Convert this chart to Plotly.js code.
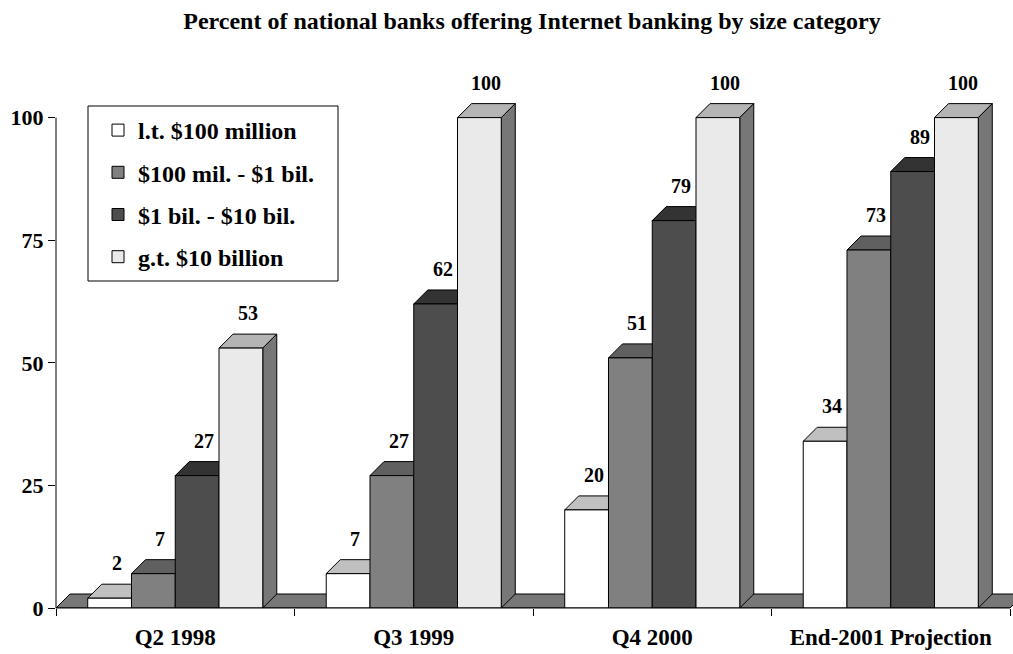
<!DOCTYPE html>
<html><head><meta charset="utf-8">
<script src="https://cdn.plot.ly/plotly-3.0.1.min.js"></script>
<style>html,body{margin:0;padding:0;background:#fff}</style>
</head><body><div id="chart" style="width:1013px;height:654px"></div>
<script>
// ---- data ----
const categories = ['Q2 1998', 'Q3 1999', 'Q4 2000', 'End-2001 Projection'];
const seriesNames = ['l.t. $100 million', '$100 mil. - $1 bil.', '$1 bil. - $10 bil.', 'g.t. $10 billion'];
const ltHundredMillion = [2, 7, 20, 34];
const hundredMilToOneBil = [7, 27, 51, 73];
const oneBilToTenBil = [27, 62, 79, 89];
const gtTenBillion = [53, 100, 100, 100];
const yTickVals = [0, 25, 50, 75, 100];

// ---- styles ----
const seriesValues = [ltHundredMillion, hundredMilToOneBil, oneBilToTenBil, gtTenBillion];
const frontColors = ['#ffffff', '#808080', '#4d4d4d', '#eaeaea'];
const topColors = ['#c0c0c0', '#606060', '#333333', '#b4b4b4'];
const sideColor = '#777777';
const floorColor = '#777777';
const FONT = 'Liberation Serif';

const W = 1013, H = 654, ML = 56, MR = 0, MT = 98, MB = 46;
const PW = W - ML - MR, PH = H - MT - MB;
const pxPerCat = 238.5;
const X0 = -0.5, X1 = X0 + PW / pxPerCat;
const Y0 = 0, Y1 = 104;
const DEPTH = 14;
const DX = DEPTH * (X1 - X0) / PW;
const DY = DEPTH * (Y1 - Y0) / PH;
const BARGAP = 0.266;
const nS = seriesValues.length;
const barW = (1 - BARGAP) / nS;
const xIdx = categories.map((c, i) => i);
const offsetOf = s => -(1 - BARGAP) / 2 + (s + 0.5) * barW;

const traces = seriesValues.map((vals, s) => ({
  type: 'bar', name: seriesNames[s], x: xIdx, y: vals,
  legendgroup: 'g' + s,
  marker: {color: frontColors[s], line: {color: '#000', width: 1}},
  hoverinfo: 'skip'
}));

const shapes = [];
// floor
const fl0 = X0, fl1 = categories.length - 0.5;
shapes.push({type: 'path', layer: 'below', xref: 'x', yref: 'y',
  path: `M${fl0},0 L${fl1},0 L${fl1 + DX},${DY} L${fl0 + DX},${DY} Z`,
  fillcolor: floorColor, line: {color: '#000', width: 1}});

const annotations = [];
seriesValues.forEach((vals, s) => {
  vals.forEach((v, j) => {
    const xl = j + offsetOf(s) - barW / 2, xr = xl + barW;
    shapes.push({type: 'path', layer: 'below', xref: 'x', yref: 'y',
      path: `M${xl},${v} L${xr},${v} L${xr + DX},${v + DY} L${xl + DX},${v + DY} Z`,
      fillcolor: topColors[s], line: {color: '#000', width: 1}});
    if (s === nS - 1) {
      shapes.push({type: 'path', layer: 'below', xref: 'x', yref: 'y',
        path: `M${xr},0 L${xr},${v} L${xr + DX},${v + DY} L${xr + DX},${DY} Z`,
        fillcolor: sideColor, line: {color: '#000', width: 1}});
    }
    annotations.push({x: j + offsetOf(s) + DX / 2, y: v, yshift: 35, xref: 'x', yref: 'y',
      text: String(v), showarrow: false,
      font: {family: FONT, size: 20, color: '#000', weight: 'bold'}});
  });
});
// axis lines
shapes.push({type: 'line', layer: 'above', xref: 'paper', yref: 'paper',
  x0: 0, x1: 0, y0: 0, y1: (100 - Y0) / (Y1 - Y0), line: {color: '#000', width: 1}});
shapes.push({type: 'line', layer: 'above', xref: 'paper', yref: 'paper',
  x0: 0, x1: (fl1 - X0) / (X1 - X0), y0: 0, y1: 0, line: {color: '#000', width: 1}});
// legend frame (reference box size)
shapes.push({type: 'rect', layer: 'above', xref: 'paper', yref: 'paper',
  x0: 32 / PW, x1: 282 / PW, y0: (608 - 281) / PH, y1: (608 - 106) / PH,
  fillcolor: '#fff', line: {color: '#000', width: 1}});

const boundaries = [X0].concat(xIdx.map(i => i + 0.5));

const layout = {
  width: W, height: H,
  margin: {l: ML, r: MR, t: MT, b: MB, pad: 0},
  paper_bgcolor: '#fff', plot_bgcolor: 'rgba(0,0,0,0)',
  title: {text: 'Percent of national banks offering Internet banking by size category',
    font: {family: FONT, size: 24, color: '#000', weight: 'bold'},
    x: 532 / W, xanchor: 'center', y: 1 - 21 / H, yanchor: 'middle'},
  barmode: 'group', bargap: BARGAP, bargroupgap: 0,
  xaxis: {range: [X0, X1], tickvals: xIdx, ticktext: categories, ticks: '',
    showgrid: false, zeroline: false, showline: false, fixedrange: true,
    ticklabelstandoff: 13,
    tickfont: {family: FONT, size: 23, color: '#000', weight: 'bold'},
    minor: {tickvals: boundaries, ticks: 'outside', ticklen: 7, tickcolor: '#000', tickwidth: 1, showgrid: false}},
  yaxis: {range: [Y0, Y1], tickvals: yTickVals, ticks: 'outside', ticklen: 7, tickcolor: '#000',
    showgrid: false, zeroline: false, showline: false, fixedrange: true,
    tickfont: {family: FONT, size: 22, color: '#000', weight: 'bold'}},
  showlegend: true,
  legend: {x: 42 / PW, y: (608 - 108) / PH, xanchor: 'left', yanchor: 'top',
    borderwidth: 0, bgcolor: 'rgba(0,0,0,0)', tracegroupgap: 8, itemwidth: 30,
    font: {family: FONT, size: 24, color: '#000', weight: 'bold'}},
  shapes: shapes,
  annotations: annotations
};

Plotly.newPlot('chart', traces, layout, {displayModeBar: false, staticPlot: true});
</script>
</body></html>
